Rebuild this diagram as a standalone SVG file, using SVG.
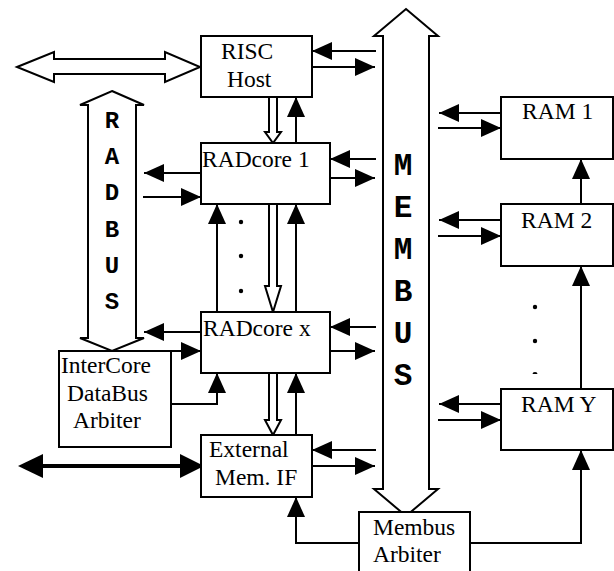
<svg xmlns="http://www.w3.org/2000/svg" width="614" height="571" viewBox="0 0 614 571">
<style>
.box{fill:#fff;stroke:#000;stroke-width:2}
.lbl{font-family:"Liberation Serif","Times New Roman",serif;font-size:23.5px;fill:#000}
.bus{font-family:"Liberation Mono","Courier New",monospace;font-weight:bold;fill:#000;text-anchor:middle}
.ln{fill:none;stroke:#000;stroke-width:2}
.hol{fill:#fff;stroke:#000;stroke-width:2;stroke-linejoin:miter}
</style>
<defs>
<marker id="ah" markerUnits="userSpaceOnUse" markerWidth="20" markerHeight="18" refX="20" refY="9" orient="auto" viewBox="0 0 20 18">
<path d="M0,0 L20,9 L0,18 Z" fill="#000"/>
</marker>
</defs>
<rect width="614" height="571" fill="#fff"/>

<g id="buses">
<polygon class="hol" points="17,67 54,52 54,59 165,59 165,52 200,67 165,82 165,74 54,74 54,82"/>
<polygon class="hol" points="112,91 144,105 136,105 136,338 144,338 112,351 80,338 88,338 88,105 80,105"/>
<polygon class="hol" points="406,9 438,36 429,36 429,489 438,489 406,516 374,489 383,489 383,36 374,36"/>
<g class="bus" font-size="24">
<text x="112" y="128">R</text>
<text x="112" y="164">A</text>
<text x="112" y="200">D</text>
<text x="112" y="237">B</text>
<text x="112" y="273">U</text>
<text x="112" y="309">S</text>
</g>
<g class="bus" font-size="31">
<text x="403" y="175">M</text>
<text x="403" y="217">E</text>
<text x="403" y="259">M</text>
<text x="403" y="301">B</text>
<text x="403" y="343">U</text>
<text x="403" y="385">S</text>
</g>
</g>

<g id="connectors">
<path class="ln" d="M376,51 H312" marker-end="url(#ah)"/>
<path class="ln" d="M312,67 H375" marker-end="url(#ah)"/>
<path class="ln" d="M296,143 V97" marker-end="url(#ah)"/>
<path class="ln" d="M376,159 H330" marker-end="url(#ah)"/>
<path class="ln" d="M330,178 H375" marker-end="url(#ah)"/>
<path class="ln" d="M201,173 H144" marker-end="url(#ah)"/>
<path class="ln" d="M143,197 H201" marker-end="url(#ah)"/>
<path class="ln" d="M217,312 V204" marker-end="url(#ah)"/>
<path class="ln" d="M296,312 V204" marker-end="url(#ah)"/>
<path class="ln" d="M376,327 H330" marker-end="url(#ah)"/>
<path class="ln" d="M330,351 H375" marker-end="url(#ah)"/>
<path class="ln" d="M201,332 H144" marker-end="url(#ah)"/>
<path class="ln" d="M143,351 H201" marker-end="url(#ah)"/>
<path class="ln" d="M171,404 H217 V373" marker-end="url(#ah)"/>
<path class="ln" d="M296,435 V373" marker-end="url(#ah)"/>
<path class="ln" d="M376,450 H312" marker-end="url(#ah)"/>
<path class="ln" d="M312,466 H375" marker-end="url(#ah)"/>
<path class="ln" d="M359,543 H296 V497" marker-end="url(#ah)"/>
<path class="ln" d="M470,543 H581 V450" marker-end="url(#ah)"/>
<path class="ln" d="M501,113 H439" marker-end="url(#ah)"/>
<path class="ln" d="M438,128 H501" marker-end="url(#ah)"/>
<path class="ln" d="M501,220 H439" marker-end="url(#ah)"/>
<path class="ln" d="M438,236 H501" marker-end="url(#ah)"/>
<path class="ln" d="M501,404 H439" marker-end="url(#ah)"/>
<path class="ln" d="M438,420 H501" marker-end="url(#ah)"/>
<path class="ln" d="M581,389 V266" marker-end="url(#ah)"/>
<path class="ln" d="M581,204 V159" marker-end="url(#ah)"/>
<polygon class="hol" points="269,97 277,97 277,132 281,132 273,143 265,132 269,132"/>
<polygon class="hol" points="269,204 277,204 277,286 281,286 273,312 265,286 269,286"/>
<polygon class="hol" points="269,373 277,373 277,420 281,420 273,435 265,420 269,420"/>
<line x1="40" y1="466" x2="182" y2="466" stroke="#000" stroke-width="4"/>
<polygon points="18,466 43,454 43,478" fill="#000"/>
<polygon points="204,466 180,454 180,478" fill="#000"/>
</g>

<g id="dots" fill="#000">
<circle cx="241" cy="222" r="2.2"/>
<circle cx="241" cy="256" r="2.2"/>
<circle cx="241" cy="291" r="2.2"/>
<circle cx="535" cy="307" r="2.2"/>
<circle cx="535" cy="341" r="2.2"/>
<path d="M532.5,374 A2.5,2 0 0 1 537.5,374 Z"/>
</g>

<g id="risc-host"><rect class="box" x="201" y="36" width="111" height="61"/><text class="lbl" x="221" y="59">RISC</text><text class="lbl" x="227" y="87">Host</text></g>
<g id="radcore-1"><rect class="box" x="201" y="143" width="129" height="61"/><text class="lbl" x="202" y="167">RADcore 1</text></g>
<g id="radcore-x"><rect class="box" x="201" y="312" width="129" height="61"/><text class="lbl" x="203" y="336">RADcore x</text></g>
<g id="intercore"><rect class="box" x="59" y="351" width="112" height="96"/><text class="lbl" x="61" y="373">InterCore</text><text class="lbl" x="67" y="401">DataBus</text><text class="lbl" x="73" y="428">Arbiter</text></g>
<g id="ext-mem"><rect class="box" x="201" y="435" width="111" height="62"/><text class="lbl" x="209" y="457">External</text><text class="lbl" x="215" y="485">Mem. IF</text></g>
<g id="membus-arbiter"><rect class="box" x="359" y="512" width="111" height="70"/><text class="lbl" x="373" y="535">Membus</text><text class="lbl" x="373" y="562">Arbiter</text></g>
<g id="ram-1"><rect class="box" x="501" y="97" width="112" height="62"/><text class="lbl" x="522" y="119">RAM 1</text></g>
<g id="ram-2"><rect class="box" x="501" y="204" width="112" height="62"/><text class="lbl" x="521" y="228">RAM 2</text></g>
<g id="ram-y"><rect class="box" x="501" y="389" width="112" height="61"/><text class="lbl" x="521" y="412">RAM Y</text></g>
</svg>
